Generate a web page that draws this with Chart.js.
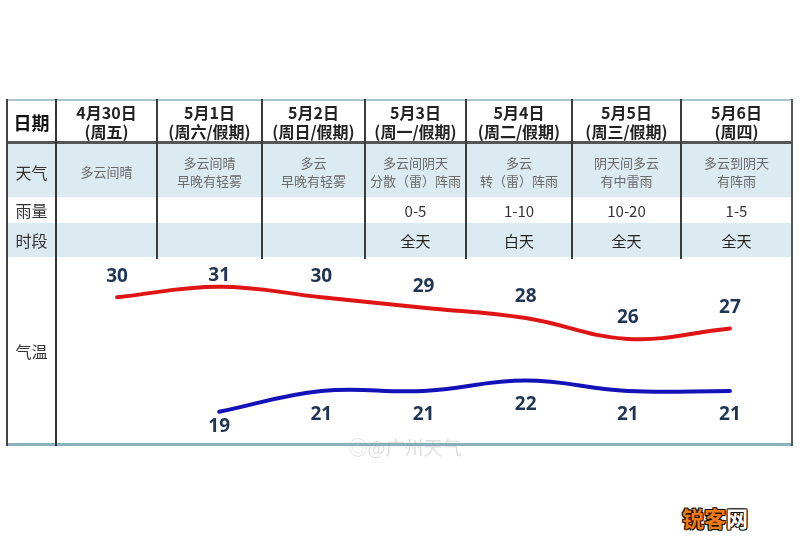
<!DOCTYPE html>
<html>
<head>
<meta charset="utf-8">
<script src="https://cdn.jsdelivr.net/npm/chart.js@4.4.1/dist/chart.umd.min.js"></script>
<style>
  html, body { margin: 0; padding: 0; background: #fff; }
  #page { position: relative; width: 800px; height: 550px; overflow: hidden; background: #fff;
          font-family: "Noto Sans CJK SC", "Noto Sans", sans-serif; }
  .cell { position: absolute; display: flex; flex-direction: column; align-items: center;
          justify-content: center; text-align: center; white-space: nowrap; }
  .ln { position: absolute; }
  #chart { position: absolute; left: 56px; top: 257px; }
  .logo { position: absolute; left: 670px; top: 500px; width: 90px; height: 34px; display: flex;
          align-items: center; justify-content: center; font-size: 22px; font-weight: bold;
          text-shadow: -1px -1px 0 #111, 1px -1px 0 #111, -1px 1px 0 #111, 1px 1px 0 #111, 0 0 2px #000; }
</style>
</head>
<body>
<div id="page">
  <canvas id="chart" width="736" height="188"></canvas>
  <div class="logo"><span style="color:#ee7a12">锐客</span><span style="color:#fff">网</span></div>
</div>
<script>
// ---- data ----
const dates = ["4月30日", "5月1日", "5月2日", "5月3日", "5月4日", "5月5日", "5月6日"];
const weekdays = ["(周五)", "(周六/假期)", "(周日/假期)", "(周一/假期)", "(周二/假期)", "(周三/假期)", "(周四)"];
const weather = [
  ["多云间晴"],
  ["多云间晴", "早晚有轻雾"],
  ["多云", "早晚有轻雾"],
  ["多云间阴天", "分散（雷）阵雨"],
  ["多云", "转（雷）阵雨"],
  ["阴天间多云", "有中雷雨"],
  ["多云到阴天", "有阵雨"],
];
const rainfall = ["", "", "", "0-5", "1-10", "10-20", "1-5"];
const period = ["", "", "", "全天", "白天", "全天", "全天"];
const rowLabels = ["日期", "天气", "雨量", "时段", "气温"];
const highTemps = [30, 31, 30, 29, 28, 26, 27];
const lowTemps = [null, 19, 21, 21, 22, 21, 21];

// ---- table layout ----
const colX = [7, 56, 157, 262, 365, 466, 572, 681, 792];
const rowY = [100, 143, 197, 223, 257, 445];
const page = document.getElementById("page");

function box(x, y, w, h, css) {
  const d = document.createElement("div");
  d.className = "ln";
  d.style.left = x + "px"; d.style.top = y + "px";
  d.style.width = w + "px"; d.style.height = h + "px";
  Object.assign(d.style, css || {});
  page.insertBefore(d, page.firstChild);
  return d;
}
function cell(x1, x2, y1, y2, lines, css) {
  const d = document.createElement("div");
  d.className = "cell";
  d.style.left = x1 + "px"; d.style.top = y1 + "px";
  d.style.width = (x2 - x1) + "px"; d.style.height = (y2 - y1) + "px";
  Object.assign(d.style, css || {});
  lines.forEach(t => {
    const s = document.createElement("div");
    s.textContent = t;
    d.appendChild(s);
  });
  page.appendChild(d);
}

// shaded rows (天气, 时段)
const shade = "#dceaf1";
box(7, rowY[1], 785, rowY[2] - rowY[1], { background: shade });
box(7, rowY[3], 785, rowY[4] - rowY[3], { background: shade });

// grid lines
page.appendChild(box(7, 99, 786, 2, { background: "#a9c4cd" }));
page.appendChild(box(7, 141, 786, 3, { background: "#555" }));
page.appendChild(box(7, 443, 786, 3, { background: "#8ab1bd" }));
page.appendChild(box(6, 99, 2, 347, { background: "#444" }));
page.appendChild(box(55, 99, 2, 347, { background: "#333" }));
page.appendChild(box(791, 99, 2, 347, { background: "#555" }));
for (let i = 2; i < colX.length - 1; i++) {
  page.appendChild(box(colX[i] - 1, 99, 2, rowY[4] - 99 + 2, { background: "#3c3c3c" }));
}

// row labels
cell(colX[0], colX[1], rowY[0], rowY[1], [rowLabels[0]], { fontSize: "18px", fontWeight: "bold", color: "#111" });
const labelCss = { fontSize: "16px", color: "#333" };
cell(colX[0], colX[1], rowY[1] + 2, rowY[2] + 2, [rowLabels[1]], labelCss);
cell(colX[0], colX[1], rowY[2], rowY[3], [rowLabels[2]], labelCss);
cell(colX[0], colX[1], rowY[3], rowY[4], [rowLabels[3]], labelCss);
cell(colX[0], colX[1], rowY[4], rowY[5], [rowLabels[4]], labelCss);

// day columns
for (let i = 0; i < dates.length; i++) {
  const x1 = colX[i + 1], x2 = colX[i + 2];
  cell(x1, x2, rowY[0], rowY[1], [dates[i], weekdays[i]],
       { fontSize: "16px", fontWeight: "bold", color: "#222", lineHeight: "19px" });
  cell(x1, x2, rowY[1] + 2, rowY[2] + 2, weather[i],
       { fontSize: "13px", color: "#6a6a6a", lineHeight: "18px" });
  cell(x1, x2, rowY[2], rowY[3], [rainfall[i]], { fontSize: "15px", color: "#333" });
  cell(x1, x2, rowY[3], rowY[4], [period[i]], { fontSize: "15px", color: "#222" });
}

// faint weibo watermark
cell(330, 480, 430, 462, ["◎@广州天气"], { fontSize: "19px", color: "rgba(150,150,150,0.3)" });

// ---- temperature chart ----
const valueLabels = {
  id: "valueLabels",
  afterDatasetsDraw(chart) {
    const ctx = chart.ctx;
    const area = chart.chartArea;
    ctx.save();
    ctx.font = "bold 19px 'Open Sans', 'Liberation Sans', sans-serif";
    ctx.fillStyle = "#1f3553";
    ctx.textAlign = "center";
    ctx.textBaseline = "middle";
    chart.data.datasets.forEach((ds, di) => {
      const meta = chart.getDatasetMeta(di);
      meta.data.forEach((pt, i) => {
        const v = ds.data[i];
        if (v === null || v === undefined) return;
        let y;
        if (di === 0) y = Math.max(pt.y - 21, area.top + 10);   // highs above the line
        else y = Math.min(pt.y + 24, area.bottom - 16);         // lows below the line
        ctx.fillText(String(v), pt.x, y);
      });
    });
    ctx.restore();
  },
};

new Chart(document.getElementById("chart"), {
  type: "line",
  data: {
    labels: dates,
    datasets: [
      {
        label: "最高气温",
        data: highTemps,
        borderColor: "#e01414",
        borderWidth: 4,
        tension: 0.4,
        pointRadius: 0,
        borderCapStyle: "round",
        fill: false,
      },
      {
        label: "最低气温",
        data: lowTemps,
        borderColor: "#1212b8",
        borderWidth: 4,
        tension: 0.4,
        pointRadius: 0,
        borderCapStyle: "round",
        fill: false,
      },
    ],
  },
  options: {
    responsive: false,
    animation: false,
    devicePixelRatio: 1,
    layout: { padding: { left: 10, right: 11, top: 9, bottom: 2 } },
    plugins: { legend: { display: false }, tooltip: { enabled: false } },
    scales: {
      x: { type: "category", offset: true, display: false },
      y: { min: 16, max: 33, display: false },
    },
  },
  plugins: [valueLabels],
});
</script>
</body>
</html>
